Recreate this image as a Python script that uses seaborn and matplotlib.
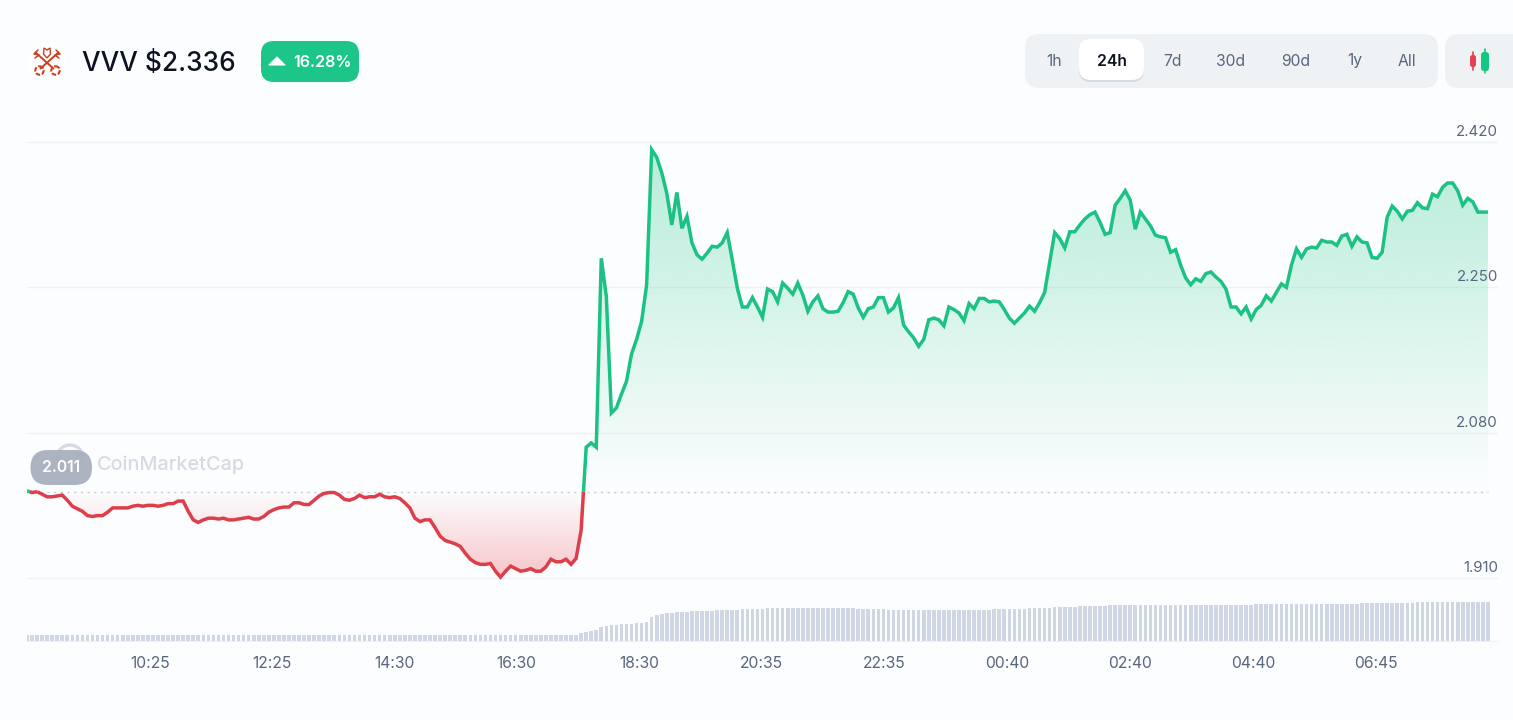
import numpy as np
import pandas as pd
import matplotlib
matplotlib.use("Agg")
import matplotlib.pyplot as plt
import seaborn as sns
from matplotlib.patches import FancyBboxPatch, Circle, Polygon
from matplotlib.path import Path

# VVV / USD, one sample every five minutes, first sample at 08:23
price = [
    2.012, 2.010, 2.011, 2.008, 2.005, 2.005, 2.006, 2.007, 2.001, 1.994,
    1.991, 1.988, 1.983, 1.982, 1.983, 1.983, 1.987, 1.992, 1.992, 1.992,
    1.992, 1.994, 1.995, 1.994, 1.995, 1.995, 1.994, 1.995, 1.997, 1.997,
    2.000, 2.000, 1.988, 1.978, 1.975, 1.978, 1.980, 1.980, 1.979, 1.980,
    1.978, 1.978, 1.979, 1.980, 1.981, 1.979, 1.979, 1.982, 1.987, 1.990,
    1.992, 1.993, 1.993, 1.998, 1.998, 1.996, 1.996, 2.001, 2.006, 2.009,
    2.010, 2.010, 2.007, 2.002, 2.001, 2.003, 2.007, 2.004, 2.005, 2.005,
    2.008, 2.005, 2.004, 2.005, 2.003, 1.998, 1.992, 1.980, 1.976, 1.978,
    1.978, 1.969, 1.959, 1.954, 1.952, 1.950, 1.947, 1.939, 1.932, 1.928,
    1.926, 1.926, 1.927, 1.918, 1.911, 1.918, 1.924, 1.921, 1.918, 1.919,
    1.921, 1.918, 1.918, 1.923, 1.932, 1.929, 1.929, 1.932, 1.926, 1.933,
    1.966, 2.063, 2.068, 2.063, 2.284, 2.239, 2.103, 2.109, 2.125, 2.140,
    2.172, 2.189, 2.210, 2.253, 2.411, 2.402, 2.384, 2.360, 2.323, 2.361,
    2.319, 2.333, 2.302, 2.288, 2.283, 2.290, 2.298, 2.297, 2.302, 2.314,
    2.282, 2.249, 2.227, 2.227, 2.238, 2.227, 2.215, 2.248, 2.245, 2.233,
    2.255, 2.249, 2.242, 2.255, 2.241, 2.222, 2.233, 2.240, 2.225, 2.221,
    2.221, 2.222, 2.232, 2.245, 2.242, 2.226, 2.215, 2.225, 2.227, 2.238,
    2.238, 2.221, 2.226, 2.238, 2.206, 2.198, 2.191, 2.181, 2.189, 2.212,
    2.214, 2.212, 2.205, 2.227, 2.224, 2.220, 2.211, 2.231, 2.225, 2.237,
    2.237, 2.233, 2.234, 2.233, 2.224, 2.214, 2.208, 2.214, 2.220, 2.228,
    2.222, 2.232, 2.244, 2.279, 2.314, 2.307, 2.296, 2.315, 2.315, 2.323,
    2.330, 2.335, 2.338, 2.326, 2.312, 2.314, 2.346, 2.354, 2.363, 2.352,
    2.318, 2.338, 2.330, 2.322, 2.311, 2.309, 2.308, 2.291, 2.294, 2.276,
    2.261, 2.253, 2.260, 2.257, 2.266, 2.268, 2.262, 2.257, 2.248, 2.227,
    2.227, 2.219, 2.227, 2.213, 2.224, 2.229, 2.240, 2.234, 2.244, 2.254,
    2.250, 2.276, 2.295, 2.285, 2.295, 2.297, 2.296, 2.305, 2.303, 2.303,
    2.299, 2.310, 2.312, 2.298, 2.309, 2.303, 2.302, 2.285, 2.284, 2.291,
    2.332, 2.345, 2.339, 2.330, 2.339, 2.340, 2.349, 2.343, 2.342, 2.359,
    2.356, 2.367, 2.372, 2.372, 2.363, 2.346, 2.354, 2.350, 2.338, 2.338, 2.338,
]

# Rolling 24h volume, millions
volume = [
    6, 6, 6, 6, 6, 6, 6, 6, 6, 6, 6, 6, 6, 6, 6, 6, 6, 6, 6, 6,
    6, 6, 6, 6, 6, 6, 6, 6, 6, 6, 6, 6, 6, 6, 6, 6, 6, 6, 6, 6,
    6, 6, 6, 6, 6, 6, 6, 6, 6, 6, 6, 6, 6, 6, 6, 6, 6, 6, 6, 6,
    6, 6, 6, 6, 6, 6, 6, 6, 6, 6, 6, 6, 6, 6, 6, 6, 6, 6, 6, 6,
    6, 6, 6, 6, 6, 6, 6, 6, 6, 6, 6, 6, 6, 6, 6, 6, 6, 6, 6, 6,
    6, 6, 6, 6, 6, 6, 6, 6, 6, 6,
    7.5, 9, 9.5, 10.5, 14, 15, 15.3, 16, 16.3, 16.6,
    17, 17.3, 18, 19, 24, 26, 27, 27.5, 28, 28.5,
    28.8, 29, 29.2, 29.4, 29.6, 29.8, 30, 30.2, 30.4, 30.6,
    30.8, 31, 31.2, 31.4, 31.6, 31.8, 32, 32.2, 32.4, 32.5,
    32.5, 32.5, 32.5, 32.5, 32.5, 32.5, 32.5, 32.5, 32.5, 32.5,
    32.5, 32.5, 32.4, 32.3, 32.2, 32, 31.8, 31.6, 31.4, 31.2,
    31.1, 31, 31, 31, 31, 31, 31, 31, 31, 31,
    31, 31, 31, 31, 31, 31, 31, 31, 31, 31,
    31, 31, 31.2, 31.3, 31.4, 31.5, 31.6, 31.8, 32, 32.2,
    32.4, 32.6, 32.8, 33, 33.2, 33.4, 33.6, 33.8, 34, 34.2,
    34.4, 34.6, 34.8, 35, 35, 35.1, 35.2, 35.3, 35.4, 35.5,
    35.5, 35.6, 35.6, 35.7, 35.7, 35.8, 35.8, 35.8, 35.9, 35.9,
    36, 36, 36, 36, 36, 36, 36, 36, 36, 36,
    36, 36, 36, 36, 36.1, 36.1, 36.1, 36.2, 36.2, 36.2,
    36.3, 36.3, 36.4, 36.4, 36.5, 36.5, 36.6, 36.6, 36.7, 36.7,
    36.8, 36.8, 36.9, 37, 37, 37.1, 37.2, 37.3, 37.4, 37.5,
    37.6, 37.7, 37.8, 37.9, 38, 38, 38.1, 38.2, 38.3, 38.4,
    38.5, 38.6, 38.7, 38.8, 38.9, 39, 39, 39, 39, 39, 39,
]

open_price = 2.011
price_ticks = [1.91, 2.08, 2.25, 2.42]
tick_minutes = [122, 243, 365, 486, 608, 729, 851, 973, 1095, 1217, 1339]
tick_labels = ["10:25", "12:25", "14:30", "16:30", "18:30", "20:35",
               "22:35", "00:40", "02:40", "04:40", "06:45"]
ranges = ["1h", "24h", "7d", "30d", "90d", "1y", "All"]
symbol_text = "VVV $2.336"
change_text = "16.28%"

GREEN = "#1bc283"
RED = "#dc3f4b"
INK = "#58667e"
PAPER = "#fcfdfe"
GRID = "#eff2f5"
FONT = "Inter"

sns.set_theme(style="white", rc={"font.family": FONT, "figure.facecolor": PAPER,
                                 "axes.facecolor": "none"})

W, H = 1513, 720
fig = plt.figure(figsize=(W / 100, H / 100), dpi=100, facecolor=PAPER)


def px_axes(left, top, right, bottom, **kw):
    return fig.add_axes([left / W, 1 - bottom / H, (right - left) / W, (bottom - top) / H], **kw)


ax = px_axes(27, 130, 1498, 590)
ax_vol = px_axes(27, 598, 1498, 640.5, sharex=ax)

minutes = np.arange(len(price)) * 5.0
values = np.array(price)

# Split the trace where it crosses the opening price so each side gets its colour
rows = []
segment = 0
for i, (m, p) in enumerate(zip(minutes, values)):
    side = "up" if p >= open_price else "down"
    if i:
        prev_side = "up" if values[i - 1] >= open_price else "down"
        if side != prev_side:
            f = (open_price - values[i - 1]) / (p - values[i - 1])
            cross = minutes[i - 1] + f * (m - minutes[i - 1])
            rows.append((cross, open_price, prev_side, segment))
            segment += 1
            rows.append((cross, open_price, side, segment))
    rows.append((m, p, side, segment))
trace = pd.DataFrame(rows, columns=["minute", "price", "side", "segment"])

# Gradient area between the trace and the opening price
ylim = (1.896, 2.434)
xlim = (0, 1460)


def gradient_area(where, rgb, far, peak_alpha):
    poly = ax.fill_between(minutes, values, open_price, where=where, interpolate=True,
                           color="none", linewidth=0)
    clip = Path.make_compound_path(*poly.get_paths())
    ramp = np.zeros((256, 1, 4))
    ramp[..., 0], ramp[..., 1], ramp[..., 2] = [c / 255 for c in rgb]
    ramp[:, 0, 3] = np.linspace(0, peak_alpha, 256)
    img = ax.imshow(ramp, extent=(xlim[0], xlim[1], open_price, far), origin="lower",
                    aspect="auto", zorder=1, interpolation="bilinear")
    img.set_clip_path(clip, transform=ax.transData)


gradient_area(values >= open_price, (22, 199, 132), 2.411, 0.30)
gradient_area(values <= open_price, (234, 57, 67), 1.909, 0.29)

sns.lineplot(data=trace, x="minute", y="price", hue="side", units="segment", estimator=None,
             palette={"up": GREEN, "down": RED}, linewidth=2.5, legend=False, ax=ax,
             zorder=3, sort=False)
for ln in ax.get_lines():
    ln.set_solid_joinstyle("miter")
    ln.set_solid_capstyle("butt")

ax.axhline(open_price, xmax=0.9935, color="#c6cad3", linewidth=1, linestyle=(0, (1.6, 3.2)), zorder=2)

ax.set_xlim(*xlim)
ax.set_ylim(*ylim)
ax.set_yticks(price_ticks)
ax.set_yticklabels([])
ax.yaxis.grid(True, color=GRID, linewidth=1.0)
ax.set_axisbelow(True)
ax.set_xlabel("")
ax.set_ylabel("")
ax.tick_params(axis="both", length=0, labelbottom=False, labelleft=False)
sns.despine(ax=ax, left=True, bottom=True)

for t in price_ticks:
    ax.annotate(f"{t:.3f}", (1, t), xycoords=ax.get_yaxis_transform(), xytext=(0, 7.2),
                textcoords="offset points", ha="right", va="center", fontsize=10.8,
                color=INK)

# Volume strip
sns.barplot(x=minutes, y=volume, native_scale=True, color="#cfd6e4", saturation=1,
            width=0.72, linewidth=0, ax=ax_vol)
ax_vol.set_xlim(*xlim)
ax_vol.set_ylim(0, 42.5)
ax_vol.set_yticks([])
ax_vol.set_xticks(tick_minutes)
ax_vol.set_xticklabels(tick_labels, fontsize=11.3, color=INK)
ax_vol.set_xlabel("")
ax_vol.set_ylabel("")
ax_vol.tick_params(axis="x", length=0, pad=11)
sns.despine(ax=ax_vol, left=True)
ax_vol.spines["bottom"].set_color(GRID)
ax_vol.spines["bottom"].set_linewidth(0.8)

# Page furniture above the plot, laid out in screen pixels
ui = fig.add_axes([0, 0, 1, 1], facecolor="none")
ui.set_xlim(0, W)
ui.set_ylim(H, 0)
ui.axis("off")


def pill(x0, y0, x1, y1, r, color, z=1, alpha=None):
    ui.add_patch(FancyBboxPatch((x0 + r, y0 + r), x1 - x0 - 2 * r, y1 - y0 - 2 * r,
                                boxstyle=f"round,pad={r},rounding_size={r}",
                                facecolor=color, edgecolor="none", linewidth=0,
                                zorder=z, alpha=alpha))


# Crossed-keys token mark
KEY = "#c8401f"
ui.add_patch(Circle((47, 62), 19, facecolor="white", edgecolor="none", zorder=1))
ui.plot([40, 59], [69, 52], color=KEY, lw=1.4, zorder=2, solid_capstyle="butt")
ui.plot([54, 35], [69, 52], color=KEY, lw=1.4, zorder=2, solid_capstyle="butt")
ui.plot([56, 60, 55, 59], [50, 54, 55, 58], color=KEY, lw=1.1, zorder=2)
ui.plot([38, 34, 39, 35], [50, 54, 55, 58], color=KEY, lw=1.1, zorder=2)
for cx in (39.5, 55.5):
    ui.add_patch(Circle((cx, 70.5), 4.2, facecolor="none", edgecolor=KEY, lw=1.5,
                        linestyle=(0, (2.2, 0.8)), zorder=2))
ui.add_patch(Polygon([(44, 48), (47, 50), (50, 48), (50.5, 54), (47, 58), (43.5, 54)],
                     closed=True, facecolor="none", edgecolor=KEY, lw=1.0, zorder=2))

ui.text(82, 64, symbol_text, fontsize=18.9, color="#0d1421", va="center", ha="left", zorder=3,
        fontweight="medium")

# Change badge
pill(261, 41, 359, 82, 13, "#1bc688", z=1)
ui.add_patch(Polygon([(269, 65), (277, 57), (285, 65)], closed=True, facecolor="white",
                     edgecolor="white", lw=0.8, joinstyle="round", zorder=2))
ui.text(323, 62.5, change_text, fontsize=11.6, color="white", va="center", ha="center",
        fontweight="semibold", zorder=3)

# Range selector
pill(1025, 34, 1438, 88, 14, "#eff2f5", z=1)
pill(1079, 41, 1144, 82, 12, "#d5dae3", z=2)
pill(1079, 39, 1144, 80, 12, "white", z=3)
for label, cx in zip(ranges, [1054, 1112, 1172, 1231, 1296, 1355, 1407]):
    ui.text(cx, 61, label, fontsize=11.3, va="center", ha="center", zorder=4,
            color="#0d1421" if label == "24h" else INK,
            fontweight="semibold" if label == "24h" else "normal")

# Candlestick toggle
pill(1445, 34, 1530, 88, 14, "#eff2f5", z=1)
ui.plot([1473, 1473], [52, 70], color="#e5404d", lw=1.2, zorder=2)
pill(1470, 55, 1476, 67, 2.5, "#e5404d", z=3)
ui.plot([1485, 1485], [49, 73], color="#16c784", lw=1.2, zorder=2)
pill(1481, 52, 1489, 71, 3, "#16c784", z=3)

# Watermark and opening-price bubble
ui.add_patch(Circle((70, 458), 13, facecolor="none", edgecolor="#d6dae2", lw=2.4, zorder=1))
ui.text(97, 464.5, "CoinMarketCap", fontsize=14.3, color="#d6dae2", va="center", ha="left",
        fontweight="medium", zorder=1)
pill(30.5, 450, 92, 485, 17.5, "#a9b0be", z=2, alpha=0.95)
ui.text(61, 467, f"{open_price:.3f}", fontsize=11.3, color="white", va="center", ha="center",
        fontweight="semibold", zorder=3)

fig.savefig("out.png", dpi=100, facecolor=PAPER)
